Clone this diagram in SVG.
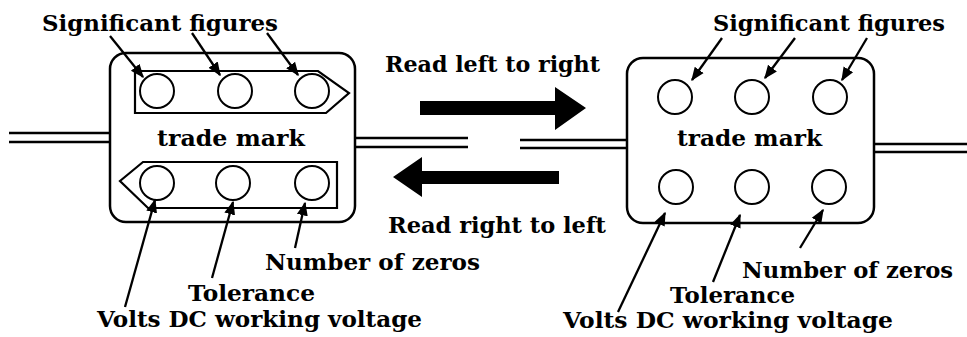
<svg xmlns="http://www.w3.org/2000/svg" width="967" height="337" viewBox="0 0 967 337">
<style>
.t{font-family:"DejaVu Serif","Liberation Serif",serif;font-weight:bold;font-size:21.5px;fill:#000}
.box{fill:none;stroke:#000;stroke-width:2.5}
.band{fill:none;stroke:#000;stroke-width:2.2;stroke-linejoin:miter}
.dot{fill:#fff;stroke:#000;stroke-width:2}
.wire{stroke:#000;stroke-width:2.5}
.lead{stroke:#000;stroke-width:2.3;fill:none;marker-end:url(#ah)}
</style>
<defs>
<marker id="ah" viewBox="0 0 10 10" refX="9" refY="5" markerWidth="6" markerHeight="6" orient="auto" markerUnits="strokeWidth">
<path d="M0,1 L10,5 L0,9 Z" fill="#000"/>
</marker>
</defs>
<rect width="967" height="337" fill="#fff"/>
<g id="wires">
<line class="wire" x1="9" y1="133" x2="110" y2="133"/>
<line class="wire" x1="9" y1="142" x2="110" y2="142"/>
<line class="wire" x1="355" y1="138" x2="468" y2="138"/>
<line class="wire" x1="355" y1="147" x2="468" y2="147"/>
<line class="wire" x1="520" y1="140" x2="627" y2="140"/>
<line class="wire" x1="520" y1="148" x2="627" y2="148"/>
<line class="wire" x1="874" y1="144" x2="967" y2="144"/>
<line class="wire" x1="874" y1="152" x2="967" y2="152"/>
</g>
<g id="capacitor-left">
<rect class="box" x="110" y="53" width="245" height="169" rx="16"/>
<polygon class="band" points="135,71 318,71 349,93 326,113 135,113"/>
<polygon class="band" points="143,162 337,162 337,208 148,208 120,181"/>
<circle class="dot" cx="157" cy="91" r="17"/>
<circle class="dot" cx="235" cy="91" r="17"/>
<circle class="dot" cx="312" cy="91" r="17"/>
<circle class="dot" cx="157" cy="183" r="17"/>
<circle class="dot" cx="233" cy="183" r="17"/>
<circle class="dot" cx="312" cy="183" r="17"/>
<text class="t" x="157" y="146" textLength="148" lengthAdjust="spacingAndGlyphs">trade mark</text>
</g>
<g id="capacitor-right">
<rect class="box" x="627" y="58" width="247" height="165" rx="16"/>
<circle class="dot" cx="675" cy="97" r="17"/>
<circle class="dot" cx="752" cy="97" r="17"/>
<circle class="dot" cx="830" cy="97" r="17"/>
<circle class="dot" cx="676" cy="187" r="17"/>
<circle class="dot" cx="752" cy="187" r="17"/>
<circle class="dot" cx="829" cy="187" r="17"/>
<text class="t" x="677" y="146" textLength="145" lengthAdjust="spacingAndGlyphs">trade mark</text>
</g>
<g id="direction-arrows">
<polygon fill="#000" points="420,101 555,101 555,87 586,108 555,130 555,115 420,115"/>
<polygon fill="#000" points="559,171 422,171 422,157 393,177 422,197 422,184 559,184"/>
</g>
<g id="connectors">
<line class="lead" x1="110" y1="36" x2="143" y2="77"/>
<line class="lead" x1="192" y1="33" x2="220" y2="75"/>
<line class="lead" x1="267" y1="33" x2="298" y2="75"/>
<line class="lead" x1="125" y1="307" x2="155" y2="200"/>
<line class="lead" x1="212" y1="278" x2="233" y2="202"/>
<line class="lead" x1="295" y1="248" x2="305" y2="203"/>
<line class="lead" x1="722" y1="38" x2="692" y2="80"/>
<line class="lead" x1="795" y1="38" x2="765" y2="78"/>
<line class="lead" x1="867" y1="38" x2="842" y2="80"/>
<line class="lead" x1="618" y1="312" x2="665" y2="213"/>
<line class="lead" x1="713" y1="282" x2="740" y2="215"/>
<line class="lead" x1="800" y1="248" x2="823" y2="210"/>
</g>
<g id="labels">
<text class="t" x="42" y="31" textLength="236" lengthAdjust="spacingAndGlyphs">Significant figures</text>
<text class="t" x="713" y="31" textLength="232" lengthAdjust="spacingAndGlyphs">Significant figures</text>
<text class="t" x="385" y="72" textLength="215" lengthAdjust="spacingAndGlyphs">Read left to right</text>
<text class="t" x="388" y="233" textLength="218" lengthAdjust="spacingAndGlyphs">Read right to left</text>
<text class="t" x="265" y="270" textLength="215" lengthAdjust="spacingAndGlyphs">Number of zeros</text>
<text class="t" x="188" y="301" textLength="127" lengthAdjust="spacingAndGlyphs">Tolerance</text>
<text class="t" x="97" y="327" textLength="325" lengthAdjust="spacingAndGlyphs">Volts DC working voltage</text>
<text class="t" x="742" y="278" textLength="211" lengthAdjust="spacingAndGlyphs">Number of zeros</text>
<text class="t" x="670" y="303" textLength="125" lengthAdjust="spacingAndGlyphs">Tolerance</text>
<text class="t" x="563" y="328" textLength="330" lengthAdjust="spacingAndGlyphs">Volts DC working voltage</text>
</g>
</svg>
